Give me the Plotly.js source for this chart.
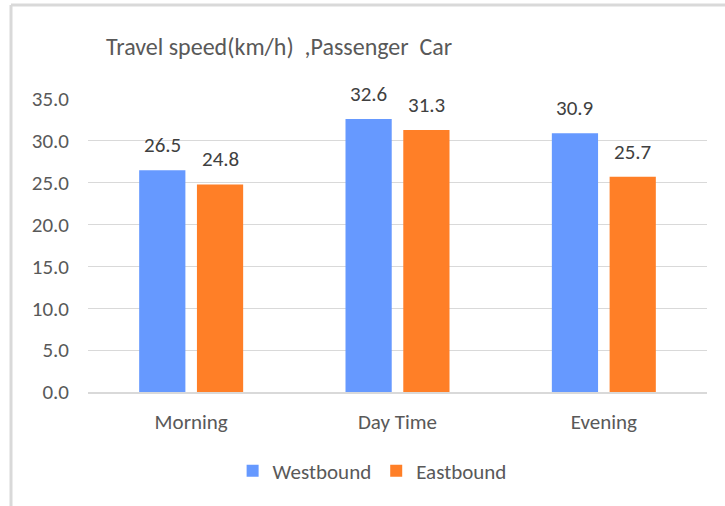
<!DOCTYPE html>
<html><head><meta charset="utf-8">
<script src="https://cdn.plot.ly/plotly-3.0.1.min.js"></script>
<style>html,body{margin:0;padding:0;background:#fff}#c{width:725px;height:506px}</style>
</head><body><div id="c"></div>
<script>
const categories = ['Morning', 'Day Time', 'Evening'];
const westbound = [26.5, 32.6, 30.9];
const eastbound = [24.8, 31.3, 25.7];
const seriesNames = ['Westbound', 'Eastbound'];
const colors = ['#6699FF', '#FF7F27'];

const FONT = 'Carlito, "Liberation Sans", "DejaVu Sans", sans-serif';
const traces = [westbound, eastbound].map((vals, i) => ({
  type: 'bar', name: seriesNames[i], x: categories, y: vals,
  marker: {color: colors[i]}, hoverinfo: 'none'
}));

const annotations = [];
[westbound, eastbound].forEach((vals, i) => {
  vals.forEach((v, j) => {
    annotations.push({x: categories[j], y: v, xref: 'x', yref: 'y', text: v.toFixed(1),
      showarrow: false, yanchor: 'bottom', xshift: (i === 0 ? -29 : 29), yshift: 10,
      font: {family: FONT, size: 21, color: '#404040'}});
  });
});

const layout = {
  width: 725, height: 506,
  margin: {l: 88, r: 18, t: 99, b: 114},
  paper_bgcolor: '#fff', plot_bgcolor: '#fff',
  title: {text: 'Travel speed(km/h)\u00A0\u00A0,Passenger\u00A0 Car', x: 0.385, xref: 'container', xanchor: 'center',
    y: 1 - 47/506, yref: 'container', yanchor: 'middle',
    font: {family: FONT, size: 24, color: '#595959'}},
  barmode: 'group', bargap: 0.44, bargroupgap: 0.2,
  xaxis: {showgrid: false, showline: true, linecolor: '#d9d9d9', linewidth: 1.5,
    tickfont: {family: FONT, size: 21, color: '#595959'}, ticks: '', ticklabelstandoff: 10},
  yaxis: {range: [0, 35], dtick: 5, tickformat: '.1f', showgrid: true, gridcolor: '#d9d9d9', gridwidth: 1.2,
    zeroline: false, showline: false, ticks: '', ticklabelstandoff: 18,
    tickfont: {family: FONT, size: 21, color: '#595959'}},
  legend: {orientation: 'h', x: 0.459, xanchor: 'center', y: -0.27, yanchor: 'middle',
    font: {family: FONT, size: 21, color: '#595959'}, itemwidth: 30, traceorder: 'normal'},
  showlegend: true,
  annotations: annotations,
  shapes: [
    {type: 'line', xref: 'paper', yref: 'paper', x0: (11-88)/619, x1: (11-88)/619, y0: (392-5)/293, y1: (392-510)/293,
      line: {color: '#d9d9d9', width: 3}},
    {type: 'line', xref: 'paper', yref: 'paper', x0: (11-88)/619, x1: (730-88)/619, y0: (392-5)/293, y1: (392-5)/293,
      line: {color: '#d9d9d9', width: 3}}
  ]
};
Plotly.newPlot('c', traces, layout, {staticPlot: true, displayModeBar: false});
</script></body></html>
